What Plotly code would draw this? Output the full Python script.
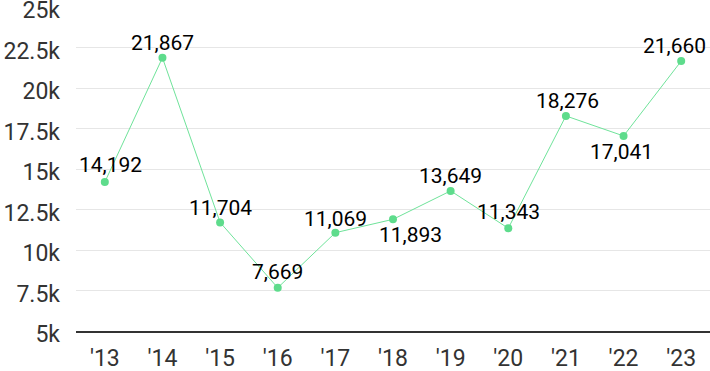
import plotly.graph_objects as go

years = ["'13", "'14", "'15", "'16", "'17", "'18", "'19", "'20", "'21", "'22", "'23"]
values = [14192, 21867, 11704, 7669, 11069, 11893, 13649, 11343, 18276, 17041, 21660]
y_tickvals = [5000, 7500, 10000, 12500, 15000, 17500, 20000, 22500, 25000]
y_ticktext = ["5k", "7.5k", "10k", "12.5k", "15k", "17.5k", "20k", "22.5k", "25k"]

# label offsets (styling): (xshift, yshift) in px
label_shift = [(6, 17), (0, 15), (0, 14), (0, 16), (0, 14), (17, -16),
               (0, 15), (0, 16), (2, 15), (-2, -16), (-7, 15)]

fig = go.Figure()
fig.add_trace(go.Scatter(
    x=years, y=values, mode="lines+markers",
    line=dict(color="#6fe39a", width=1),
    marker=dict(color="#5edc8c", size=8),
    cliponaxis=False, hoverinfo="skip",
))

annotations = []
for x, v, (dx, dy) in zip(years, values, label_shift):
    annotations.append(dict(
        x=x, y=v, xref="x", yref="y", text=f"{v:,}", showarrow=False,
        xanchor="center", yanchor="middle", xshift=dx, yshift=dy,
        font=dict(family="Roboto", size=21, color="#000000"),
    ))

fig.update_layout(
    width=710, height=371,
    margin=dict(l=76, r=0, t=7, b=40, autoexpand=False),
    paper_bgcolor="white", plot_bgcolor="white",
    showlegend=False,
    annotations=annotations,
    xaxis=dict(
        type="category", range=[-0.5, 10.5], showgrid=False,
        showline=True, linecolor="#333333", linewidth=1.5,
        ticks="", ticklabelstandoff=6, automargin=False,
        ticklabeloverflow="allow",
        tickfont=dict(family="Roboto", size=23, color="#333333"),
        fixedrange=True,
    ),
    yaxis=dict(
        range=[5000, 25000], tickvals=y_tickvals, ticktext=y_ticktext,
        showgrid=True, gridcolor="#e6e6e6", gridwidth=1,
        zeroline=False, showline=False, ticks="", ticklabelstandoff=15,
        ticklabelshift=3,
        automargin=False, ticklabeloverflow="allow",
        tickfont=dict(family="Roboto", size=23, color="#333333"),
        fixedrange=True,
    ),
)

fig.write_html(
    "out.html",
    config={"displayModeBar": False},
    post_script="document.body.style.margin='0';document.body.style.overflow='hidden';",
)
